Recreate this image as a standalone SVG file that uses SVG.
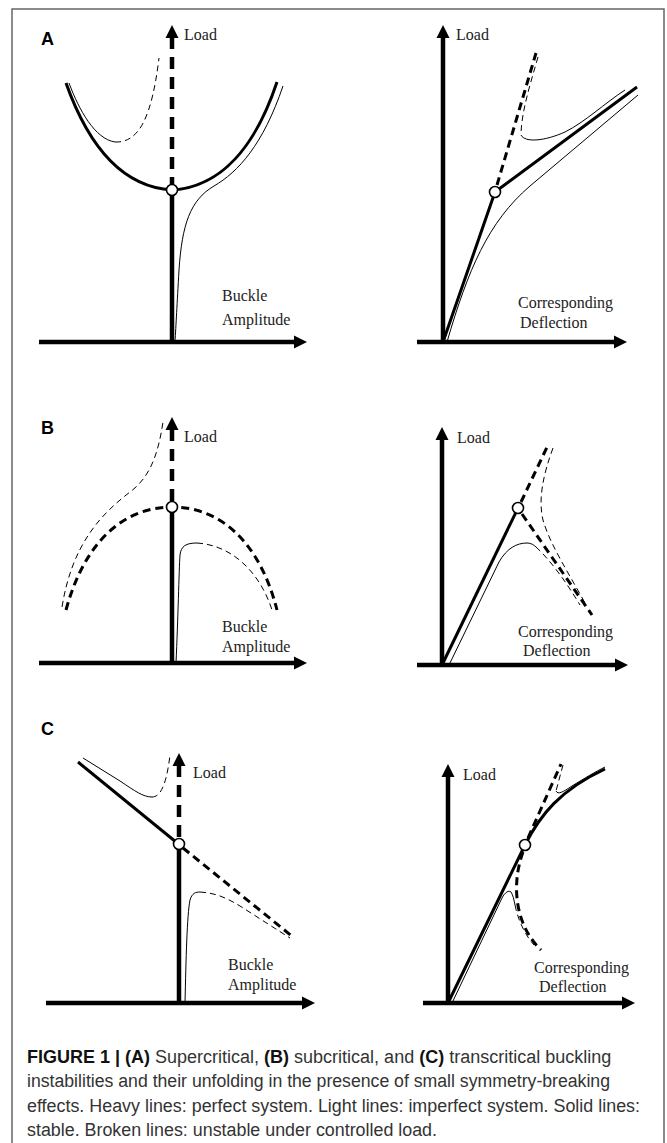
<svg xmlns="http://www.w3.org/2000/svg" xmlns:xlink="http://www.w3.org/1999/xlink" width="667" height="1143" viewBox="0 0 667 1143">
<style>
.ax{stroke:#000;stroke-width:4.5;fill:none}
.axd{stroke-dasharray:12 8}
.tk{stroke:#000;stroke-width:3;fill:none}
.tkd{stroke-dasharray:8 5}
.tn{stroke:#000;stroke-width:1;fill:none}
.tnd{stroke-dasharray:6 4}
.pt{fill:#fff;stroke:#000;stroke-width:1.6}
.lbl{font-family:"Liberation Serif","Times New Roman",serif;font-size:16px;fill:#222}
.pl{font-family:"Liberation Sans",Arial,sans-serif;font-weight:bold;font-size:18px;fill:#000}
.cap{font-family:"Liberation Sans",Arial,sans-serif;font-size:18px;fill:#333}
.b{font-weight:bold;fill:#111}
</style>
<defs>
<path id="ah" d="M0,0 L-13,-6.5 L-13,6.5 Z" fill="#000"/>
</defs>
<path id="frame" d="M12,1143 V9 H664 V1143" stroke="#666" stroke-width="1.5" fill="none"/>

<g id="panel-A-left">
<text class="pl" x="41" y="45">A</text>
<path class="ax" d="M39,342 H295"/>
<use xlink:href="#ah" transform="translate(307,342)"/>
<path class="ax" d="M172,344 V195"/>
<path class="ax axd" d="M172,37 V185"/>
<use xlink:href="#ah" transform="translate(172,25) rotate(-90)"/>
<path class="tk" d="M66,83 C88,145 122,187 172,190 C222,187 256,145 277,82"/>
<path class="tn" d="M69,83 C79,110 95,139 115,142"/>
<path class="tn tnd" d="M115,142 C140,143 152,115 159,58"/>
<path class="tn" d="M283,86 C263,145 238,172 214,186 C190,200 182,225 179,270 C177,305 176,325 175,342"/>
<circle class="pt" cx="172" cy="190" r="5.5"/>
<text class="lbl" x="184" y="40">Load</text>
<text class="lbl" x="222" y="301">Buckle</text>
<text class="lbl" x="222" y="325">Amplitude</text>
</g>

<g id="panel-A-right">
<path class="ax" d="M417,342 H615"/>
<use xlink:href="#ah" transform="translate(627,342)"/>
<path class="ax" d="M443,344 V37"/>
<use xlink:href="#ah" transform="translate(443,25) rotate(-90)"/>
<path class="tk" d="M443,342 L495,192 L637,87"/>
<path class="tk tkd" d="M497,185 L536,53"/>
<path class="tn tnd" d="M538,57 C530,85 522,110 521,133"/>
<path class="tn" d="M521,135 C525,143 545,141 565,132 C585,122 605,103 625,90"/>
<path class="tn" d="M447,342 C468,270 488,222 530,186 L638,95"/>
<circle class="pt" cx="495" cy="192" r="5.5"/>
<text class="lbl" x="456" y="40">Load</text>
<text class="lbl" x="518" y="308">Corresponding</text>
<text class="lbl" x="520" y="328">Deflection</text>
</g>

<g id="panel-B-left">
<text class="pl" x="41" y="434">B</text>
<path class="ax" d="M39,663 H295"/>
<use xlink:href="#ah" transform="translate(307,663)"/>
<path class="ax" d="M172,665 V512"/>
<path class="ax axd" d="M172,429 V502"/>
<use xlink:href="#ah" transform="translate(172,417) rotate(-90)"/>
<path class="tk tkd" d="M66,610 C85,540 125,507 172,507 C219,507 259,540 277,610"/>
<path class="tn tnd" d="M62,607 C72,545 100,515 130,492 C150,477 158,455 163,422"/>
<path class="tn" d="M176,663 C178,620 179,570 180,555 C181,546 186,543 197,543"/>
<path class="tn tnd" d="M197,543 C230,545 260,570 273,613"/>
<circle class="pt" cx="172" cy="507" r="5.5"/>
<text class="lbl" x="184" y="442">Load</text>
<text class="lbl" x="222" y="632">Buckle</text>
<text class="lbl" x="222" y="652">Amplitude</text>
</g>

<g id="panel-B-right">
<path class="ax" d="M417,665 H616"/>
<use xlink:href="#ah" transform="translate(628,665)"/>
<path class="ax" d="M442,667 V439"/>
<use xlink:href="#ah" transform="translate(442,427) rotate(-90)"/>
<path class="tk" d="M442,665 L518,508"/>
<path class="tk tkd" d="M521,502 L548,445"/>
<path class="tk tkd" d="M522,514 L592,615"/>
<path class="tn tnd" d="M553,448 C543,475 538,500 543,520 C550,545 570,575 586,605"/>
<path class="tn" d="M449,665 L499,562 C507,548 517,543 527,543 C531,543 534,545 536,547"/>
<path class="tn tnd" d="M536,547 C550,560 565,580 580,605"/>
<circle class="pt" cx="518" cy="508" r="5.5"/>
<text class="lbl" x="457" y="443">Load</text>
<text class="lbl" x="518" y="637">Corresponding</text>
<text class="lbl" x="523" y="656">Deflection</text>
</g>

<g id="panel-C-left">
<text class="pl" x="41" y="735">C</text>
<path class="ax" d="M46,1003 H303"/>
<use xlink:href="#ah" transform="translate(315,1003)"/>
<path class="ax" d="M179,1005 V849"/>
<path class="ax axd" d="M179,765 V839"/>
<use xlink:href="#ah" transform="translate(179,753) rotate(-90)"/>
<path class="tk" d="M78,762 L176,842"/>
<path class="tk tkd" d="M183,848 L293,937"/>
<path class="tn" d="M83,758 L120,781 C135,791 143,797 152,797"/>
<path class="tn tnd" d="M152,797 C162,797 167,780 170,755"/>
<path class="tn" d="M185,1003 C186,960 187,915 190,900 C192,893 196,892 200,892"/>
<path class="tn tnd" d="M200,892 C215,893 225,897 240,906 L290,938"/>
<circle class="pt" cx="179" cy="844" r="5.5"/>
<text class="lbl" x="193" y="778">Load</text>
<text class="lbl" x="228" y="970">Buckle</text>
<text class="lbl" x="228" y="990">Amplitude</text>
</g>

<g id="panel-C-right">
<path class="ax" d="M423,1003 H623"/>
<use xlink:href="#ah" transform="translate(635,1003)"/>
<path class="ax" d="M448,1005 V776"/>
<use xlink:href="#ah" transform="translate(448,764) rotate(-90)"/>
<path class="tk" d="M448,1003 L525,845 C540,815 560,790 605,769"/>
<path class="tk tkd" d="M528,838 L561,764"/>
<path class="tk tkd" d="M523,852 C511,885 515,925 541,950"/>
<path class="tn" d="M452,1003 L502,898 C505,892 509,890 511,892 C513,895 514,900 515,905"/>
<path class="tn tnd" d="M515,905 C518,920 525,935 534,945"/>
<path class="tn tnd" d="M563,765 L556,791"/>
<path class="tn" d="M556,791 C558,795 563,792 572,786 C585,778 595,772 605,767"/>
<circle class="pt" cx="525" cy="845" r="5.5"/>
<text class="lbl" x="463" y="780">Load</text>
<text class="lbl" x="534" y="973">Corresponding</text>
<text class="lbl" x="539" y="992">Deflection</text>
</g>

<g id="caption">
<text class="cap" x="27" y="1063"><tspan class="b">FIGURE 1 | (A)</tspan> Supercritical, <tspan class="b">(B)</tspan> subcritical, and <tspan class="b">(C)</tspan> transcritical buckling</text>
<text class="cap" x="27" y="1087" textLength="583" lengthAdjust="spacingAndGlyphs">instabilities and their unfolding in the presence of small symmetry-breaking</text>
<text class="cap" x="27" y="1112" textLength="613" lengthAdjust="spacingAndGlyphs">effects. Heavy lines: perfect system. Light lines: imperfect system. Solid lines:</text>
<text class="cap" x="27" y="1136" textLength="410" lengthAdjust="spacingAndGlyphs">stable. Broken lines: unstable under controlled load.</text>
</g>
</svg>
